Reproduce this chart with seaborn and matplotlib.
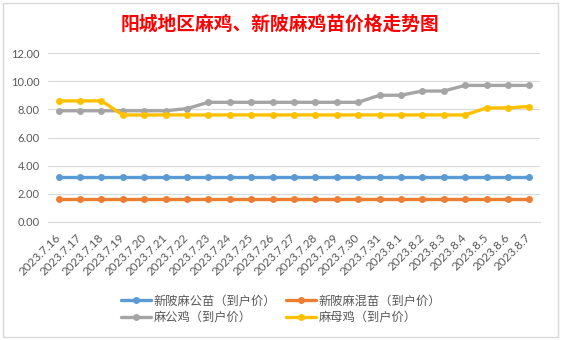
import matplotlib
matplotlib.use("Agg")
import matplotlib.pyplot as plt
import matplotlib.patches as mpatches
from matplotlib.lines import Line2D
import seaborn as sns
import pandas as pd

dates = ["2023.7.16", "2023.7.17", "2023.7.18", "2023.7.19", "2023.7.20", "2023.7.21",
         "2023.7.22", "2023.7.23", "2023.7.24", "2023.7.25", "2023.7.26", "2023.7.27",
         "2023.7.28", "2023.7.29", "2023.7.30", "2023.7.31", "2023.8.1", "2023.8.2",
         "2023.8.3", "2023.8.4", "2023.8.5", "2023.8.6", "2023.8.7"]

series_names = ["新陂麻公苗（到户价）", "新陂麻混苗（到户价）", "麻公鸡（到户价）", "麻母鸡（到户价）"]

xinpi_male_chick = [3.2] * 23
xinpi_mixed_chick = [1.6] * 23
male_chicken = [7.9, 7.9, 7.9, 7.9, 7.9, 7.9, 8.05, 8.5, 8.5, 8.5, 8.5, 8.5,
                8.5, 8.5, 8.5, 9.0, 9.0, 9.3, 9.3, 9.7, 9.7, 9.7, 9.7]
female_chicken = [8.6, 8.6, 8.6, 7.6, 7.6, 7.6, 7.6, 7.6, 7.6, 7.6, 7.6, 7.6,
                  7.6, 7.6, 7.6, 7.6, 7.6, 7.6, 7.6, 7.6, 8.1, 8.1, 8.2]

colors = ["#5B9BD5", "#ED7D31", "#A5A5A5", "#FFC000"]
yticks = [0, 2, 4, 6, 8, 10, 12]

title = "阳城地区麻鸡、新陂麻鸡苗价格走势图"

frames = []
for name, vals in zip(series_names, [xinpi_male_chick, xinpi_mixed_chick, male_chicken, female_chicken]):
    frames.append(pd.DataFrame({"date": dates, "price": vals, "series": name}))
df = pd.concat(frames, ignore_index=True)

sns.set_theme(style="white")
cjk = ["Noto Sans CJK SC", "DejaVu Sans"]
plt.rcParams["font.family"] = cjk

fig = plt.figure(figsize=(5.61, 3.40), dpi=100)
ax = fig.add_axes([48 / 561, 1 - 222 / 340, (540 - 48) / 561, (222 - 53) / 340])

sns.lineplot(data=df, x="date", y="price", hue="series", hue_order=series_names,
             palette=colors, marker="o", markersize=5, markeredgewidth=0,
             linewidth=2.4, sort=False, ax=ax, legend=False, zorder=3)

ax.set_xlim(-0.5, len(dates) - 0.5)
ax.set_ylim(0, 12)
ax.set_yticks(yticks)
ax.set_yticklabels([f"{v:.2f}" for v in yticks], family="Lato", fontsize=8, color="#595959")
ax.set_xticks(range(len(dates)))
ax.set_xticklabels(dates, rotation=45, ha="right", va="center", rotation_mode="anchor",
                   family="Lato", fontsize=8.5, color="#595959")
ax.tick_params(axis="x", length=0, pad=10)
ax.tick_params(axis="y", length=0, pad=6)
ax.grid(axis="y", color="#D9D9D9", linewidth=0.8)
ax.grid(axis="x", visible=False)
for s in ["top", "right", "left"]:
    ax.spines[s].set_visible(False)
ax.spines["bottom"].set_color("#D9D9D9")
ax.spines["bottom"].set_linewidth(0.8)
ax.set_xlabel("")
ax.set_ylabel("")

fig.text(280 / 561, 1 - 24 / 340, title, ha="center", va="center", color="#FF0000",
         fontsize=13.5, fontweight="bold", family=cjk)

handles = [Line2D([0], [0], color=c, linewidth=2.4, marker="o", markersize=5,
                  markeredgewidth=0) for c in colors]
order = [0, 2, 1, 3]
leg = fig.legend([handles[i] for i in order], [series_names[i] for i in order],
                 ncol=2, loc="center", bbox_to_anchor=(281 / 561, 1 - 309 / 340),
                 frameon=False, prop={"family": cjk, "size": 8.8},
                 handlelength=2.5, handletextpad=0.2, columnspacing=0.8,
                 labelspacing=0.3, labelcolor="#595959")

border = mpatches.Rectangle((3 / 561, 3 / 340), 555 / 561, 334 / 340, transform=fig.transFigure,
                            fill=False, edgecolor="#D9D9D9", linewidth=1.0)
fig.patches.append(border)

fig.savefig("out.png", dpi=100)
